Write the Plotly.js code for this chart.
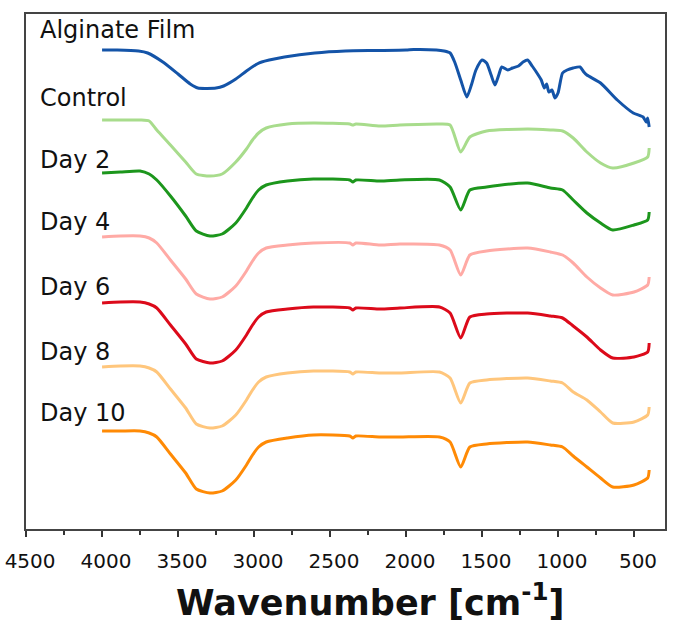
<!DOCTYPE html>
<html>
<head>
<meta charset="utf-8">
<script src="https://cdn.plot.ly/plotly-3.0.1.min.js"></script>
<style>html,body{margin:0;padding:0;background:#fff;}#chart{width:673px;height:623px;}</style>
</head>
<body>
<div id="chart"></div>
<script>
// Wavenumber grid (cm^-1)
const wnAlginate = [4000,3900,3760,3700,3600,3500,3420,3370,3250,3200,3120,3050,2980,2950,2900,2800,2600,2400,2200,2000,1950,1800,1750,1710,1680,1640,1600,1570,1540,1500,1470,1440,1415,1390,1370,1330,1300,1260,1230,1200,1170,1130,1110,1090,1075,1060,1040,1020,1000,970,940,900,855,830,810,720,610,505,440,420,410,400];
const wnSamples = [4000,3880,3750,3690,3640,3550,3450,3380,3290,3210,3120,3050,3010,2970,2920,2780,2610,2370,2350,2330,2170,2040,1780,1710,1640,1580,1470,1200,1050,970,900,810,720,640,500,410,400];

// Transmittance (a.u., stacked with offsets)
const alginateFilm = [4.79,4.79,4.78,4.76,4.67,4.55,4.45,4.41,4.41,4.43,4.50,4.58,4.65,4.67,4.69,4.72,4.76,4.78,4.785,4.79,4.795,4.79,4.78,4.76,4.67,4.49,4.32,4.44,4.59,4.69,4.66,4.54,4.44,4.54,4.62,4.59,4.61,4.63,4.67,4.69,4.63,4.54,4.49,4.41,4.45,4.37,4.39,4.31,4.36,4.56,4.59,4.61,4.62,4.57,4.54,4.46,4.29,4.16,4.12,4.07,4.11,4.02];
const control = [4.09,4.09,4.09,4.08,3.99,3.84,3.67,3.55,3.53,3.55,3.67,3.80,3.89,3.96,4.01,4.05,4.06,4.05,4.04,4.05,4.03,4.04,4.05,4.04,3.77,3.92,3.98,4.00,3.99,3.98,3.91,3.77,3.66,3.61,3.66,3.72,3.81];
const day2 = [3.56,3.57,3.58,3.55,3.49,3.33,3.13,2.98,2.93,2.95,3.06,3.21,3.31,3.39,3.44,3.48,3.50,3.49,3.47,3.49,3.48,3.49,3.49,3.42,3.19,3.39,3.42,3.46,3.41,3.39,3.29,3.16,3.06,2.99,3.04,3.09,3.17];
const day4 = [2.92,2.93,2.93,2.91,2.86,2.69,2.50,2.35,2.30,2.32,2.43,2.58,2.68,2.76,2.81,2.84,2.86,2.86,2.84,2.86,2.84,2.85,2.84,2.79,2.54,2.74,2.78,2.81,2.77,2.74,2.66,2.52,2.41,2.34,2.37,2.44,2.52];
const day6 = [2.26,2.27,2.27,2.25,2.21,2.04,1.85,1.70,1.66,1.68,1.79,1.94,2.04,2.12,2.17,2.20,2.22,2.21,2.19,2.21,2.20,2.21,2.22,2.16,1.91,2.12,2.15,2.16,2.13,2.11,2.03,1.92,1.79,1.71,1.72,1.77,1.86];
const day8 = [1.62,1.63,1.63,1.61,1.57,1.40,1.21,1.05,1.01,1.03,1.14,1.29,1.39,1.47,1.52,1.56,1.58,1.57,1.55,1.57,1.56,1.56,1.57,1.51,1.26,1.46,1.49,1.51,1.48,1.46,1.37,1.29,1.17,1.06,1.07,1.14,1.22];
const day10 = [0.98,0.98,0.98,0.96,0.92,0.75,0.56,0.40,0.36,0.38,0.49,0.64,0.74,0.82,0.87,0.91,0.94,0.93,0.91,0.93,0.92,0.92,0.92,0.87,0.62,0.82,0.85,0.87,0.84,0.82,0.73,0.62,0.51,0.42,0.44,0.51,0.59];

const seriesNames = ["Alginate Film","Control","Day 2","Day 4","Day 6","Day 8","Day 10"];
const xTickVals = [4500,4000,3500,3000,2500,2000,1500,1000,500];
const xTickText = ["4500","4000","3500","3000","2500","2000","1500","1000","500"];
const xTitle = "Wavenumber [cm<sup>-1</sup>]";

const colors = ["#1454a8","#a8dc8c","#1c961c","#ffaaa5","#dc0a1a","#ffc67c","#ff8a05"];
const ys = [alginateFilm, control, day2, day4, day6, day8, day10];
const xs = [wnAlginate, wnSamples, wnSamples, wnSamples, wnSamples, wnSamples, wnSamples];

const traces = ys.map((y, i) => ({
  type: "scatter", mode: "lines", x: xs[i], y: y, name: seriesNames[i],
  line: {color: colors[i], width: 3, shape: "spline", smoothing: 0.6},
  hoverinfo: "skip"
}));

const FONT = "DejaVu Sans, Verdana, sans-serif";
const labelY = [0.969, 0.837, 0.717, 0.596, 0.470, 0.344, 0.225];
const annotations = seriesNames.map((t, i) => ({
  text: t, xref: "paper", yref: "paper", x: 0.019, y: labelY[i],
  xanchor: "left", yanchor: "middle", showarrow: false,
  font: {family: FONT, size: 24, color: "#111"}
}));
annotations.push({
  text: xTitle, xref: "paper", yref: "paper", x: 0.539, y: -0.137,
  xanchor: "center", yanchor: "middle", showarrow: false,
  font: {family: FONT, size: 35, color: "#111", weight: "bold"}
});

const layout = {
  width: 673, height: 623,
  margin: {l: 26, r: 8, t: 14, b: 94},
  paper_bgcolor: "#fff", plot_bgcolor: "#fff",
  showlegend: false,
  font: {family: FONT, color: "#111"},
  xaxis: {
    range: [4500.5, 296], tickvals: xTickVals, ticktext: xTickText,
    ticks: "outside", ticklen: 6, tickwidth: 1.5, tickcolor: "#333",
    ticklabelstandoff: 7, ticklabeloverflow: "allow", ticklabelshift: -4,
    minor: {dtick: 250, ticks: "outside", ticklen: 4, tickwidth: 1.5, tickcolor: "#333"},
    showline: true, mirror: true, linecolor: "#444", linewidth: 2,
    showgrid: false, zeroline: false,
    tickfont: {size: 20, color: "#111"}
  },
  yaxis: {
    range: [0, 5.15], showticklabels: false, ticks: "", showgrid: false, zeroline: false,
    showline: true, mirror: true, linecolor: "#444", linewidth: 2
  },
  annotations: annotations
};

Plotly.newPlot("chart", traces, layout, {displayModeBar: false, staticPlot: true});
</script>
</body>
</html>
